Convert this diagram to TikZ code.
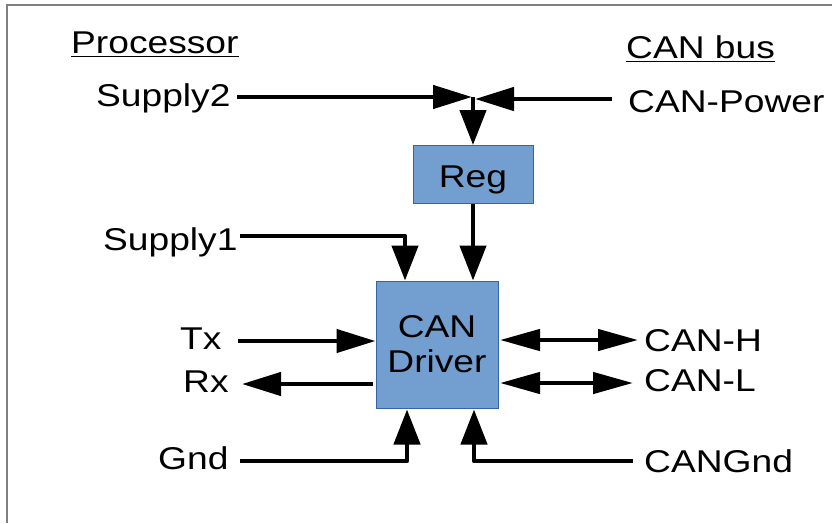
\documentclass[tikz,border=0pt]{standalone}
\usepackage{fontspec}
\setmainfont{Liberation Sans}[FakeStretch=1.18]
\usetikzlibrary{arrows.meta}
\definecolor{boxfill}{HTML}{729FCF}
\definecolor{boxline}{HTML}{3465A4}
\definecolor{frameg}{HTML}{7F7F7F}
\begin{document}
\begin{tikzpicture}[x=1pt,y=-1pt,
  lbl/.style={inner sep=0pt,anchor=base west,font=\fontsize{31.5}{35}\selectfont},
  blk/.style={draw=boxline,fill=boxfill,line width=1pt,inner sep=0pt,
    font=\fontsize{31.5}{35}\selectfont,align=center},
  wire/.style={line width=4.5pt,line join=round},
  hh/.style={wire,-{Triangle[length=39pt,width=23pt]}},
  vh/.style={wire,-{Triangle[length=35pt,width=26pt]}},
  dh/.style={wire,{Triangle[length=40pt,width=21pt]}-{Triangle[length=40pt,width=21pt]}},
  uline/.style={line width=1.6pt}
]
\useasboundingbox (0,0) rectangle (832,523);
\fill[white] (0,0) rectangle (832,523);
\draw[frameg,line width=2pt] (7,523) -- (7,4.5) -- (832,4.5);

% headings
\node[lbl] (P) at (71,53) {Processor};
\node[lbl] (CB) at (626,58) {CAN bus};
\draw[uline] ([yshift=-3.5pt]P.base west) -- ([yshift=-3.5pt]P.base east);
\draw[uline] ([yshift=-3.5pt]CB.base west) -- ([yshift=-3.5pt]CB.base east);

% labels
\node[lbl] (S2) at (96,106) {Supply2};
\node[lbl] (CP) at (628,112) {CAN-Power};
\node[lbl] (S1) at (103,250) {Supply1};
\node[lbl] (Tx) at (180,349) {Tx};
\node[lbl] (Rx) at (183,392) {Rx};
\node[lbl] (Gnd) at (158,469) {Gnd};
\node[lbl] (CH) at (644,351) {CAN-H};
\node[lbl] (CL) at (644,391) {CAN-L};
\node[lbl] (CG) at (644,472) {CANGnd};

% blocks
\node[blk,minimum width=120pt,minimum height=58pt,text height=26.5pt,text depth=0pt] (Reg) at (473,174.5) {Reg};
\node[blk,minimum width=122pt,minimum height=127pt] (Drv) at (437,344.5) {CAN\\Driver};

% connector anchor points
\coordinate (J) at (473,97);
\coordinate (JL) at (472,97);
\coordinate (JR) at (475,99);
\coordinate (s2) at (237,97);
\coordinate (cp) at (612,99);
\coordinate (s1) at (240,236);
\coordinate (s1c) at (405,236);
\coordinate (tx) at (238,341);
\coordinate (rx) at (242,384);
\coordinate (ch) at (638,340);
\coordinate (cl) at (633,383);
\coordinate (gnd) at (240,461);
\coordinate (gndc) at (407,461);
\coordinate (cg) at (633,461);
\coordinate (cgc) at (474,461);

% connectors
\draw[hh] (s2) -- (JL);
\draw[hh] (cp) -- (JR);
\draw[vh] (J) -- (Reg.north);
\draw[vh] (Reg.south) -- (Reg.south |- Drv.north);
\draw[vh] (s1) -- (s1c) -- (s1c |- Drv.north);
\draw[hh] (tx) -- (tx -| Drv.west);
\draw[hh] (Drv.west |- rx) ++(-3,0) coordinate (rxs) -- (rx);
\draw[dh] (ch -| Drv.east) ++(1.5,0) -- (ch);
\draw[dh] (cl -| Drv.east) ++(1.5,0) -- (cl);
\draw[vh] (gnd) -- (gndc) -- ([yshift=-1pt]gndc |- Drv.south);
\draw[vh] (cg) -- (cgc) -- ([yshift=-1pt]cgc |- Drv.south);
\end{tikzpicture}
\end{document}
